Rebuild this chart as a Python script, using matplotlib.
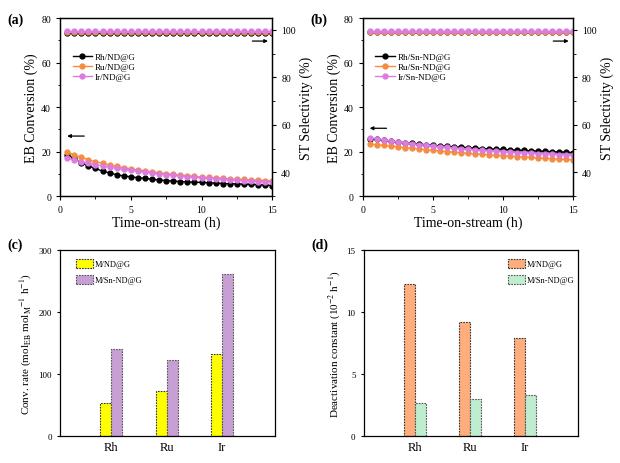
import numpy as np
import matplotlib.pyplot as plt

plt.rcParams['font.family'] = ['Liberation Serif', 'DejaVu Serif']
plt.rcParams['mathtext.fontset'] = 'stix'

### Time-on-stream data (h)
t = np.arange(0.5, 15.01, 0.5)

### (a) EB conversion (%) for M/ND@G
conv_rh_a = [18.5, 17.0, 15.0, 13.5, 12.5, 11.2, 10.5, 9.6, 9.1, 8.7, 8.3, 8.0, 7.6, 7.3, 7.0,
             6.8, 6.6, 6.4, 6.3, 6.2, 6.0, 5.9, 5.7, 5.6, 5.5, 5.4, 5.3, 5.2, 5.0, 4.8]
conv_ru_a = [20.0, 18.5, 17.5, 16.3, 15.5, 14.7, 14.0, 13.4, 12.8, 12.3, 11.8, 11.3, 10.9, 10.5, 10.1,
             9.8, 9.5, 9.2, 8.9, 8.6, 8.4, 8.2, 8.0, 7.8, 7.6, 7.5, 7.3, 7.2, 7.0, 6.9]
conv_ir_a = [17.0, 16.3, 15.5, 14.9, 14.2, 13.6, 13.0, 12.5, 12.0, 11.6, 11.2, 10.8, 10.4, 10.0, 9.7,
             9.4, 9.1, 8.8, 8.5, 8.2, 8.0, 7.8, 7.6, 7.4, 7.2, 7.0, 6.8, 6.6, 6.5, 6.3]
sel_rh_a = [98.6] * 30
sel_ru_a = [99.0] * 30
sel_ir_a = [99.4] * 30

### (b) EB conversion (%) for M/Sn-ND@G
conv_rh_b = [25.8, 25.5, 25.1, 24.7, 24.4, 24.0, 23.7, 23.4, 23.1, 22.8, 22.6, 22.4, 22.2, 22.0, 21.8,
             21.6, 21.4, 21.3, 21.1, 21.0, 20.8, 20.7, 20.6, 20.4, 20.3, 20.2, 20.0, 19.9, 19.8, 19.6]
conv_ru_b = [23.4, 23.1, 22.8, 22.5, 22.2, 21.8, 21.5, 21.2, 20.9, 20.6, 20.3, 20.0, 19.8, 19.5, 19.3,
             19.0, 18.8, 18.6, 18.4, 18.2, 18.0, 17.8, 17.6, 17.4, 17.2, 17.0, 16.9, 16.7, 16.5, 16.3]
conv_ir_b = [26.3, 25.8, 25.3, 24.8, 24.4, 24.0, 23.6, 23.2, 22.9, 22.6, 22.3, 22.0, 21.7, 21.4, 21.1,
             20.9, 20.6, 20.4, 20.2, 20.0, 19.8, 19.6, 19.4, 19.3, 19.1, 19.0, 18.8, 18.7, 18.6, 18.5]
sel_rh_b = [99.2] * 30
sel_ru_b = [99.3] * 30
sel_ir_b = [99.5] * 30

### (c) and (d) bar data
metals = ['Rh', 'Ru', 'Ir']
rate_nd = [54, 73, 133]
rate_sn = [141, 122, 261]
kd_nd = [12.3, 9.2, 7.9]
kd_sn = [2.7, 3.0, 3.35]

c_rh = 'black'
c_ru = '#f58d3c'
c_ir = '#dc7be0'

fig = plt.figure(figsize=(6.2, 4.64), dpi=100)


def style_axis(ax):
    ax.tick_params(direction='out', length=3, width=0.8, labelsize=7)
    ax.tick_params(which='minor', direction='out', length=1.8, width=0.6)
    for s in ax.spines.values():
        s.set_linewidth(0.9)


def line_panel(rect, conv, sel, labels, label, larrow_y):
    ax = fig.add_axes(rect)
    ax2 = ax.twinx()
    colors = [c_rh, c_ru, c_ir]
    for s, c in zip(sel, colors):
        ax2.plot(t, s, '-o', color=c, ms=3.5, lw=1.0, mec=c, mfc=c)
    for y, c, lab in zip(conv, colors, labels):
        ax.plot(t, y, '-o', color=c, ms=3.5, lw=1.0, mec=c, mfc=c, label=lab)
    ax.set_xlim(0, 15)
    ax.set_ylim(0, 80)
    ax2.set_ylim(30, 105)
    ax.set_xticks([0, 5, 10, 15])
    ax.set_yticks([0, 20, 40, 60, 80])
    ax2.set_yticks([40, 60, 80, 100])
    ax.set_xticks(np.arange(0, 15.1, 2.5), minor=True)
    ax.set_yticks(np.arange(0, 81, 10), minor=True)
    ax2.set_yticks(np.arange(30, 105, 10), minor=True)
    style_axis(ax)
    style_axis(ax2)
    ax.set_xlabel('Time-on-stream (h)', fontsize=10, labelpad=1)
    ax.set_ylabel('EB Conversion (%)', fontsize=10, labelpad=2)
    ax2.set_ylabel('ST Selectivity (%)', fontsize=10, labelpad=3)
    ax.legend(loc='upper left', bbox_to_anchor=(0.02, 0.85), frameon=False,
              fontsize=6.5, handlelength=2.2, labelspacing=0.2, handletextpad=0.3)
    ax.annotate('', xy=(0.3, larrow_y), xytext=(1.9, larrow_y),
                arrowprops=dict(arrowstyle='-|>', color='black', lw=0.9, mutation_scale=5))
    ax2.annotate('', xy=(14.9, 95.3), xytext=(13.4, 95.3),
                 arrowprops=dict(arrowstyle='-|>', color='black', lw=0.9, mutation_scale=5))
    fig.text(rect[0] - 0.085, rect[1] + rect[3] - 0.01, label, fontsize=10, fontweight='bold')
    return ax


line_panel([0.097, 0.575, 0.342, 0.384],
           [conv_rh_a, conv_ru_a, conv_ir_a], [sel_rh_a, sel_ru_a, sel_ir_a],
           ['Rh/ND@G', 'Ru/ND@G', 'Ir/ND@G'], '(a)', 27)
line_panel([0.585, 0.575, 0.339, 0.384],
           [conv_rh_b, conv_ru_b, conv_ir_b], [sel_rh_b, sel_ru_b, sel_ir_b],
           ['Rh/Sn-ND@G', 'Ru/Sn-ND@G', 'Ir/Sn-ND@G'], '(b)', 30.5)


def bar_panel(rect, v1, v2, col1, col2, ymax, yticks, ylabel, label, legend_x):
    ax = fig.add_axes(rect)
    x = np.arange(1, len(metals) + 1)
    w = 0.2
    ax.bar(x - w / 2, v1, w, color=col1, edgecolor='#333333', linestyle=(0, (1.5, 1)),
           lw=0.8, label='M/ND@G')
    ax.bar(x + w / 2, v2, w, color=col2, edgecolor='#555555', linestyle=(0, (1.5, 1)),
           lw=0.8, label='M/Sn-ND@G')
    ax.set_xlim(0.08, 3.96)
    ax.set_ylim(0, ymax)
    ax.set_xticks(x)
    ax.set_xticklabels(metals, fontsize=9)
    ax.tick_params(axis='x', length=0)
    ax.set_yticks(yticks)
    ax.tick_params(axis='y', direction='out', length=2.5, labelsize=6.5)
    for s in ax.spines.values():
        s.set_linewidth(0.9)
    ax.set_ylabel(ylabel, fontsize=8, labelpad=3)
    ax.legend(loc='upper left', bbox_to_anchor=legend_x, frameon=False, fontsize=6,
              handlelength=2.0, handleheight=1.2, labelspacing=0.8, handletextpad=0.2)
    fig.text(rect[0] - 0.085, rect[1] + rect[3] + 0.005, label, fontsize=10, fontweight='bold')
    return ax


bar_panel([0.097, 0.058, 0.347, 0.401], rate_nd, rate_sn, '#ffff00', '#c89fd4', 300,
          [0, 100, 200, 300],
          r'Conv. rate (mol$_{\mathrm{EB}}$ mol$_{\mathrm{M}}$$^{-1}$ h$^{-1}$)', '(c)', (0.04, 0.99))
bar_panel([0.587, 0.058, 0.345, 0.401], kd_nd, kd_sn, '#ffad7d', '#bfedd0', 15,
          [0, 5, 10, 15],
          r'Deactivation constant (10$^{-2}$ h$^{-1}$)', '(d)', (0.64, 0.99))

fig.savefig('out.png', dpi=100)
